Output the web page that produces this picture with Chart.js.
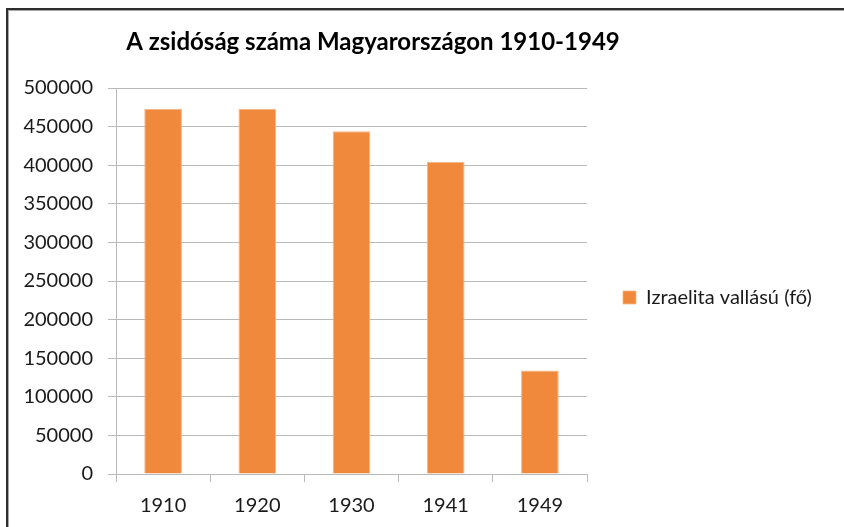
<!DOCTYPE html>
<html>
<head>
<meta charset="utf-8">
<script src="https://cdn.jsdelivr.net/npm/chart.js@4"></script>
<style>
  html, body { margin: 0; padding: 0; background: #fff; }
  .wrap { position: relative; width: 844px; height: 527px; overflow: hidden; }
  .frame {
    position: absolute; left: 6px; top: 8px; width: 900px; height: 600px;
    border-left: 2px solid #2e2e2e; border-top: 2px solid #2e2e2e;
    box-shadow: inset 1px 1px 0 #a8a8a8; pointer-events: none;
  }
</style>
</head>
<body>
<div class="wrap">
  <canvas id="chart" width="844" height="527"></canvas>
  <div class="frame"></div>
</div>
<script>
const chartTitle = "A zsidóság száma Magyarországon 1910-1949";
const years = ["1910", "1920", "1930", "1941", "1949"];
const seriesName = "Izraelita vallású (fő)";
const jewishPop = [473000, 473000, 444000, 404000, 134000];
const yTicks = [0, 50000, 100000, 150000, 200000, 250000, 300000, 350000, 400000, 450000, 500000];

const barColor = "#f0893c";
const gridColor = "#bababa";
const textColor = "#1a1a1a";

// title drawn by hand so it can sit off-centre like the original
const titlePlugin = {
  id: "titlePlugin",
  afterDraw(chart) {
    const c = chart.ctx;
    c.save();
    c.font = "bold 24px Lato";
    c.fillStyle = "#000";
    c.textAlign = "center";
    c.textBaseline = "middle";
    c.fillText(chartTitle, 373, 42);
    c.restore();
  }
};

// legend needs a fixed width so the plot ends where excel put it,
// and sits a bit higher than chart.js would centre it
const legendFix = {
  id: "legendFix",
  beforeLayout(chart) {
    const lg = chart.legend;
    if (lg && !lg._wide) {
      const fit = lg.fit;
      lg.fit = function () {
        fit.call(this);
        this.width = 257;
      };
      lg._wide = true;
    }
  },
  afterLayout(chart) {
    const lg = chart.legend;
    if (lg) {
      lg.top -= 10;
      lg.bottom -= 10;
    }
  }
};

const ctx = document.getElementById("chart").getContext("2d");
const myChart = new Chart(ctx, {
  type: "bar",
  data: {
    labels: years,
    datasets: [
      {
        label: seriesName,
        data: jewishPop,
        backgroundColor: barColor,
        borderColor: "#f6b585",
        borderWidth: { left: 1, right: 1, top: 1, bottom: 0 },
        barPercentage: 0.4,
        categoryPercentage: 1,
      },
    ],
  },
  options: {
    responsive: false,
    animation: false,
    layout: {
      padding: { top: 88, left: 0, right: 0, bottom: 0 },
    },
    plugins: {
      title: { display: false },
      tooltip: { enabled: false },
      legend: {
        position: "right",
        labels: {
          boxWidth: 13,
          boxHeight: 13,
          padding: 36,
          color: textColor,
          font: { family: "Lato", size: 20 },
        },
      },
    },
    scales: {
      x: {
        afterFit(scale) {
          scale.height = 53;
        },
        grid: {
          display: true,
          drawOnChartArea: false,
          color: gridColor,
          tickLength: 8,
        },
        border: { color: gridColor },
        ticks: {
          color: textColor,
          padding: 12,
          font: { family: "Lato", size: 20 },
        },
      },
      y: {
        min: 0,
        max: 500000,
        afterFit(scale) {
          scale.width = 116;
        },
        afterBuildTicks(scale) {
          scale.ticks = yTicks.map(v => ({ value: v }));
        },
        grid: {
          color: gridColor,
          tickLength: 8,
        },
        border: { color: gridColor },
        ticks: {
          color: textColor,
          padding: 15,
          font: { family: "Lato", size: 20 },
          callback: function (value) {
            return String(value);
          },
        },
      },
    },
  },
  plugins: [titlePlugin, legendFix],
});
</script>
</body>
</html>
